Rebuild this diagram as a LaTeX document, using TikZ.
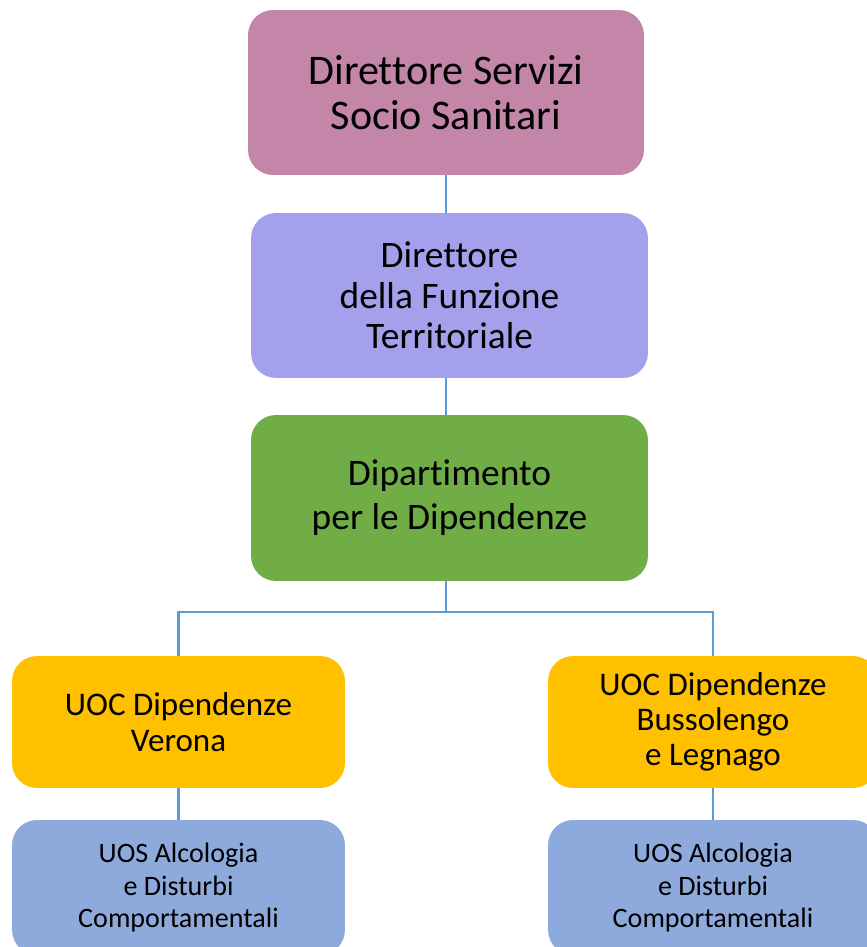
\documentclass[tikz,border=0pt]{standalone}
\usepackage{fontspec}
\setmainfont{Carlito}[Ligatures=NoCommon]
\usepackage{tikz}
\usetikzlibrary{positioning}

\definecolor{mauve}{HTML}{C386A8}
\definecolor{lavanda}{HTML}{A5A0EC}
\definecolor{verde}{HTML}{70AD47}
\definecolor{giallo}{HTML}{FFC000}
\definecolor{azzurro}{HTML}{8EA9DB}
\definecolor{linea}{HTML}{5B9BD5}

\begin{document}
\begin{tikzpicture}[x=0.02cm,y=-0.02cm,
	box/.style={rectangle,rounded corners=0.5cm,align=center,inner sep=0pt},
	conn/.style={draw=linea,line width=1.2pt}]
			
			\useasboundingbox (0,0) rectangle (866,947);
			
			\node[box,fill=mauve,minimum width=7.92cm,minimum height=3.3cm,font=\fontsize{24}{25.5}\selectfont] (DSS) at (446,92.5) {Direttore Servizi\\Socio Sanitari};
			\node[box,fill=lavanda,minimum width=7.94cm,minimum height=3.3cm,font=\fontsize{21.3}{23}\selectfont] (DFT) at (449.5,295.5) {Direttore\\della Funzione\\Territoriale};
			\node[box,fill=verde,minimum width=7.94cm,minimum height=3.32cm,font=\fontsize{21.3}{25}\selectfont] (DIP) at (449.5,498) {Dipartimento\\per le Dipendenze};
			
			\node[box,fill=giallo,minimum width=6.66cm,minimum height=2.64cm,font=\fontsize{18.8}{20.4}\selectfont] (UOC1) at (178.5,722) {UOC Dipendenze\\Verona};
			\node[box,fill=giallo,minimum width=6.6cm,minimum height=2.64cm,font=\fontsize{18.8}{20}\selectfont] (UOC2) at (713,722) {UOC Dipendenze\\Bussolengo\\e Legnago};
			
			\node[box,fill=azzurro,minimum width=6.66cm,minimum height=2.7cm,font=\fontsize{16}{18.4}\selectfont] (UOS1) at (178.5,887.5) {UOS Alcologia\\e Disturbi\\Comportamentali};
			\node[box,fill=azzurro,minimum width=6.6cm,minimum height=2.7cm,font=\fontsize{16}{18.4}\selectfont] (UOS2) at (713,887.5) {UOS Alcologia\\e Disturbi\\Comportamentali};
			
			\coordinate (F) at (446,612);
			
			\draw[conn] (DSS.south-|F) -- (DFT.north-|F);
			\draw[conn] (DFT.south-|F) -- (DIP.north-|F);
			\draw[conn] (DIP.south-|F) -- (F);
			\draw[conn] (F) -| (UOC1.north);
			\draw[conn] (F) -| (UOC2.north);
			\draw[conn] (UOC1) -- (UOS1);
			\draw[conn] (UOC2) -- (UOS2);
			
		\end{tikzpicture}
\end{document}
